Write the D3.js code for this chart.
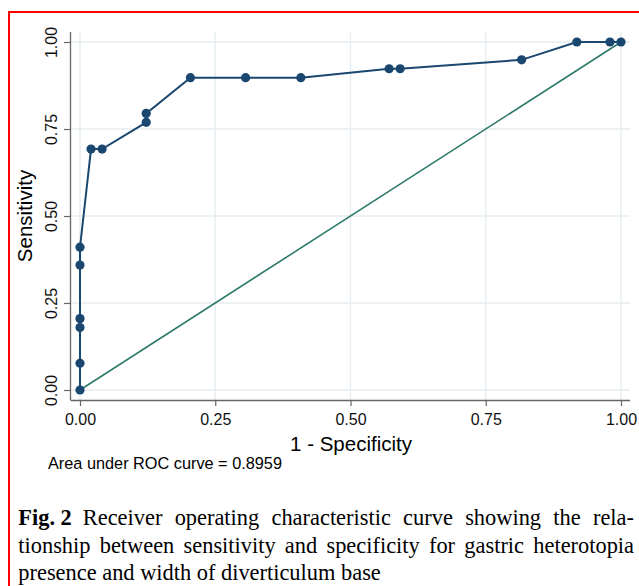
<!DOCTYPE html>
<html><head><meta charset="utf-8">
<script src="https://cdn.jsdelivr.net/npm/d3@7"></script>
<style>
html,body{margin:0;padding:0;background:#fff;}
body{width:639px;height:586px;overflow:hidden;position:relative;}
#frame{position:absolute;left:8px;top:11px;width:700px;height:700px;border:2.5px solid #f00;box-sizing:border-box;}
</style></head>
<body>
<div id="frame"></div>
<svg id="chart" width="639" height="586" style="position:absolute;left:0;top:0"></svg>
<script>
// Data
const fpr = [0, 0, 0, 0, 0, 0, 0.0204, 0.0408, 0.1224, 0.1224, 0.2041, 0.3061, 0.4082, 0.5714, 0.5918, 0.8163, 0.9184, 0.9796, 1.0];
const tpr = [0, 0.0769, 0.1795, 0.2051, 0.3590, 0.4103, 0.6923, 0.6923, 0.7692, 0.7949, 0.8974, 0.8974, 0.8974, 0.9231, 0.9231, 0.9487, 1.0, 1.0, 1.0];
const tickVals = [0, 0.25, 0.5, 0.75, 1];
const tickLabels = ["0.00", "0.25", "0.50", "0.75", "1.00"];
const aucText = "Area under ROC curve = 0.8959";
const capLabel = "Fig. 2";
const capLines = [
  "Receiver operating characteristic curve showing the rela-",
  "tionship between sensitivity and specificity for gastric heterotopia",
  "presence and width of diverticulum base"
];

const svg = d3.select("#chart");
const x = d3.scaleLinear().domain([0,1]).range([80,621]);
const y = d3.scaleLinear().domain([0,1]).range([390,42]);
const font = "'Liberation Sans', Arial, sans-serif";
const serif = "'Liberation Serif', 'Times New Roman', serif";
const gridC = "#e6eef1";

// gridlines
svg.append("g").selectAll("line.hg").data(tickVals).join("line")
  .attr("x1",71).attr("x2",630).attr("y1",d=>y(d)).attr("y2",d=>y(d))
  .attr("stroke",gridC).attr("stroke-width",1.5);
svg.append("g").selectAll("line.vg").data(tickVals).join("line")
  .attr("y1",32).attr("y2",400).attr("x1",d=>x(d)).attr("x2",d=>x(d))
  .attr("stroke",gridC).attr("stroke-width",1.5);

// axes
const xAxis = d3.axisBottom(x).tickValues(tickVals).tickFormat((d,i)=>tickLabels[i]).tickSize(6).tickSizeOuter(0);
const gx = svg.append("g").attr("transform","translate(0,400)").call(xAxis);
gx.select(".domain").attr("d","M70.5,0.5H630").attr("stroke","#666").attr("stroke-width",1.3);
gx.selectAll(".tick line").attr("stroke","#666").attr("stroke-width",1.2);
gx.selectAll(".tick text").attr("font-family",font).attr("font-size","16px").attr("fill","#111").attr("y",12).attr("dy","0.8em");

const yAxis = d3.axisLeft(y).tickValues(tickVals).tickFormat((d,i)=>tickLabels[i]).tickSize(6).tickSizeOuter(0);
const gy = svg.append("g").attr("transform","translate(70,0)").call(yAxis);
gy.select(".domain").attr("d","M0.5,32V400").attr("stroke","#666").attr("stroke-width",1.3);
gy.selectAll(".tick line").attr("stroke","#666").attr("stroke-width",1.2);
gy.selectAll(".tick text").attr("font-family",font).attr("font-size","16px").attr("fill","#111")
  .attr("transform","rotate(-90)").attr("x",0).attr("y",-13).attr("dy","0").attr("text-anchor","middle");

// reference line
svg.append("line").attr("x1",x(0)).attr("y1",y(0)).attr("x2",x(1)).attr("y2",y(1))
  .attr("stroke","#2f7a6a").attr("stroke-width",1.6);

// ROC curve
const line = d3.line().x((d,i)=>x(fpr[i])).y((d,i)=>y(tpr[i]));
svg.append("path").datum(fpr).attr("d",line).attr("fill","none")
  .attr("stroke","#1a476f").attr("stroke-width",2);
svg.append("g").selectAll("circle").data(fpr).join("circle")
  .attr("cx",(d,i)=>x(fpr[i])).attr("cy",(d,i)=>y(tpr[i])).attr("r",4.6).attr("fill","#1a476f");

// labels
svg.append("text").attr("x",351).attr("y",451).attr("text-anchor","middle")
  .attr("font-family",font).attr("font-size","20.5px").attr("fill","#000").text("1 - Specificity");
svg.append("text").attr("transform","translate(32,216) rotate(-90)").attr("text-anchor","middle")
  .attr("font-family",font).attr("font-size","20.5px").attr("fill","#000").text("Sensitivity");
svg.append("text").attr("x",48).attr("y",469)
  .attr("font-family",font).attr("font-size","16.3px").attr("fill","#000").text(aucText);

// caption (justified lines)
const capSize = 22.4, capLeft = 18.3, capRight = 634, baselines = [525, 552.5, 580];
function justified(str, x0, yb, justify){
  const t = svg.append("text").attr("x",x0).attr("y",yb)
    .attr("font-family",serif).attr("font-size",capSize+"px").attr("fill","#000")
    .style("white-space","pre").text(str);
  if (justify){
    const L = t.node().getComputedTextLength();
    const n = (str.match(/ /g)||[]).length;
    t.style("word-spacing", ((capRight - x0 - L)/n) + "px");
  }
  return t;
}
const lab = svg.append("text").attr("x",capLeft).attr("y",baselines[0])
  .attr("font-family",serif).attr("font-size",capSize+"px").attr("font-weight","bold").attr("fill","#000").text(capLabel);
const labW = lab.node().getComputedTextLength();
justified(capLines[0], capLeft + labW + 11, baselines[0], true);
justified(capLines[1], capLeft, baselines[1], true);
justified(capLines[2], capLeft, baselines[2], false);
</script>
</body></html>
